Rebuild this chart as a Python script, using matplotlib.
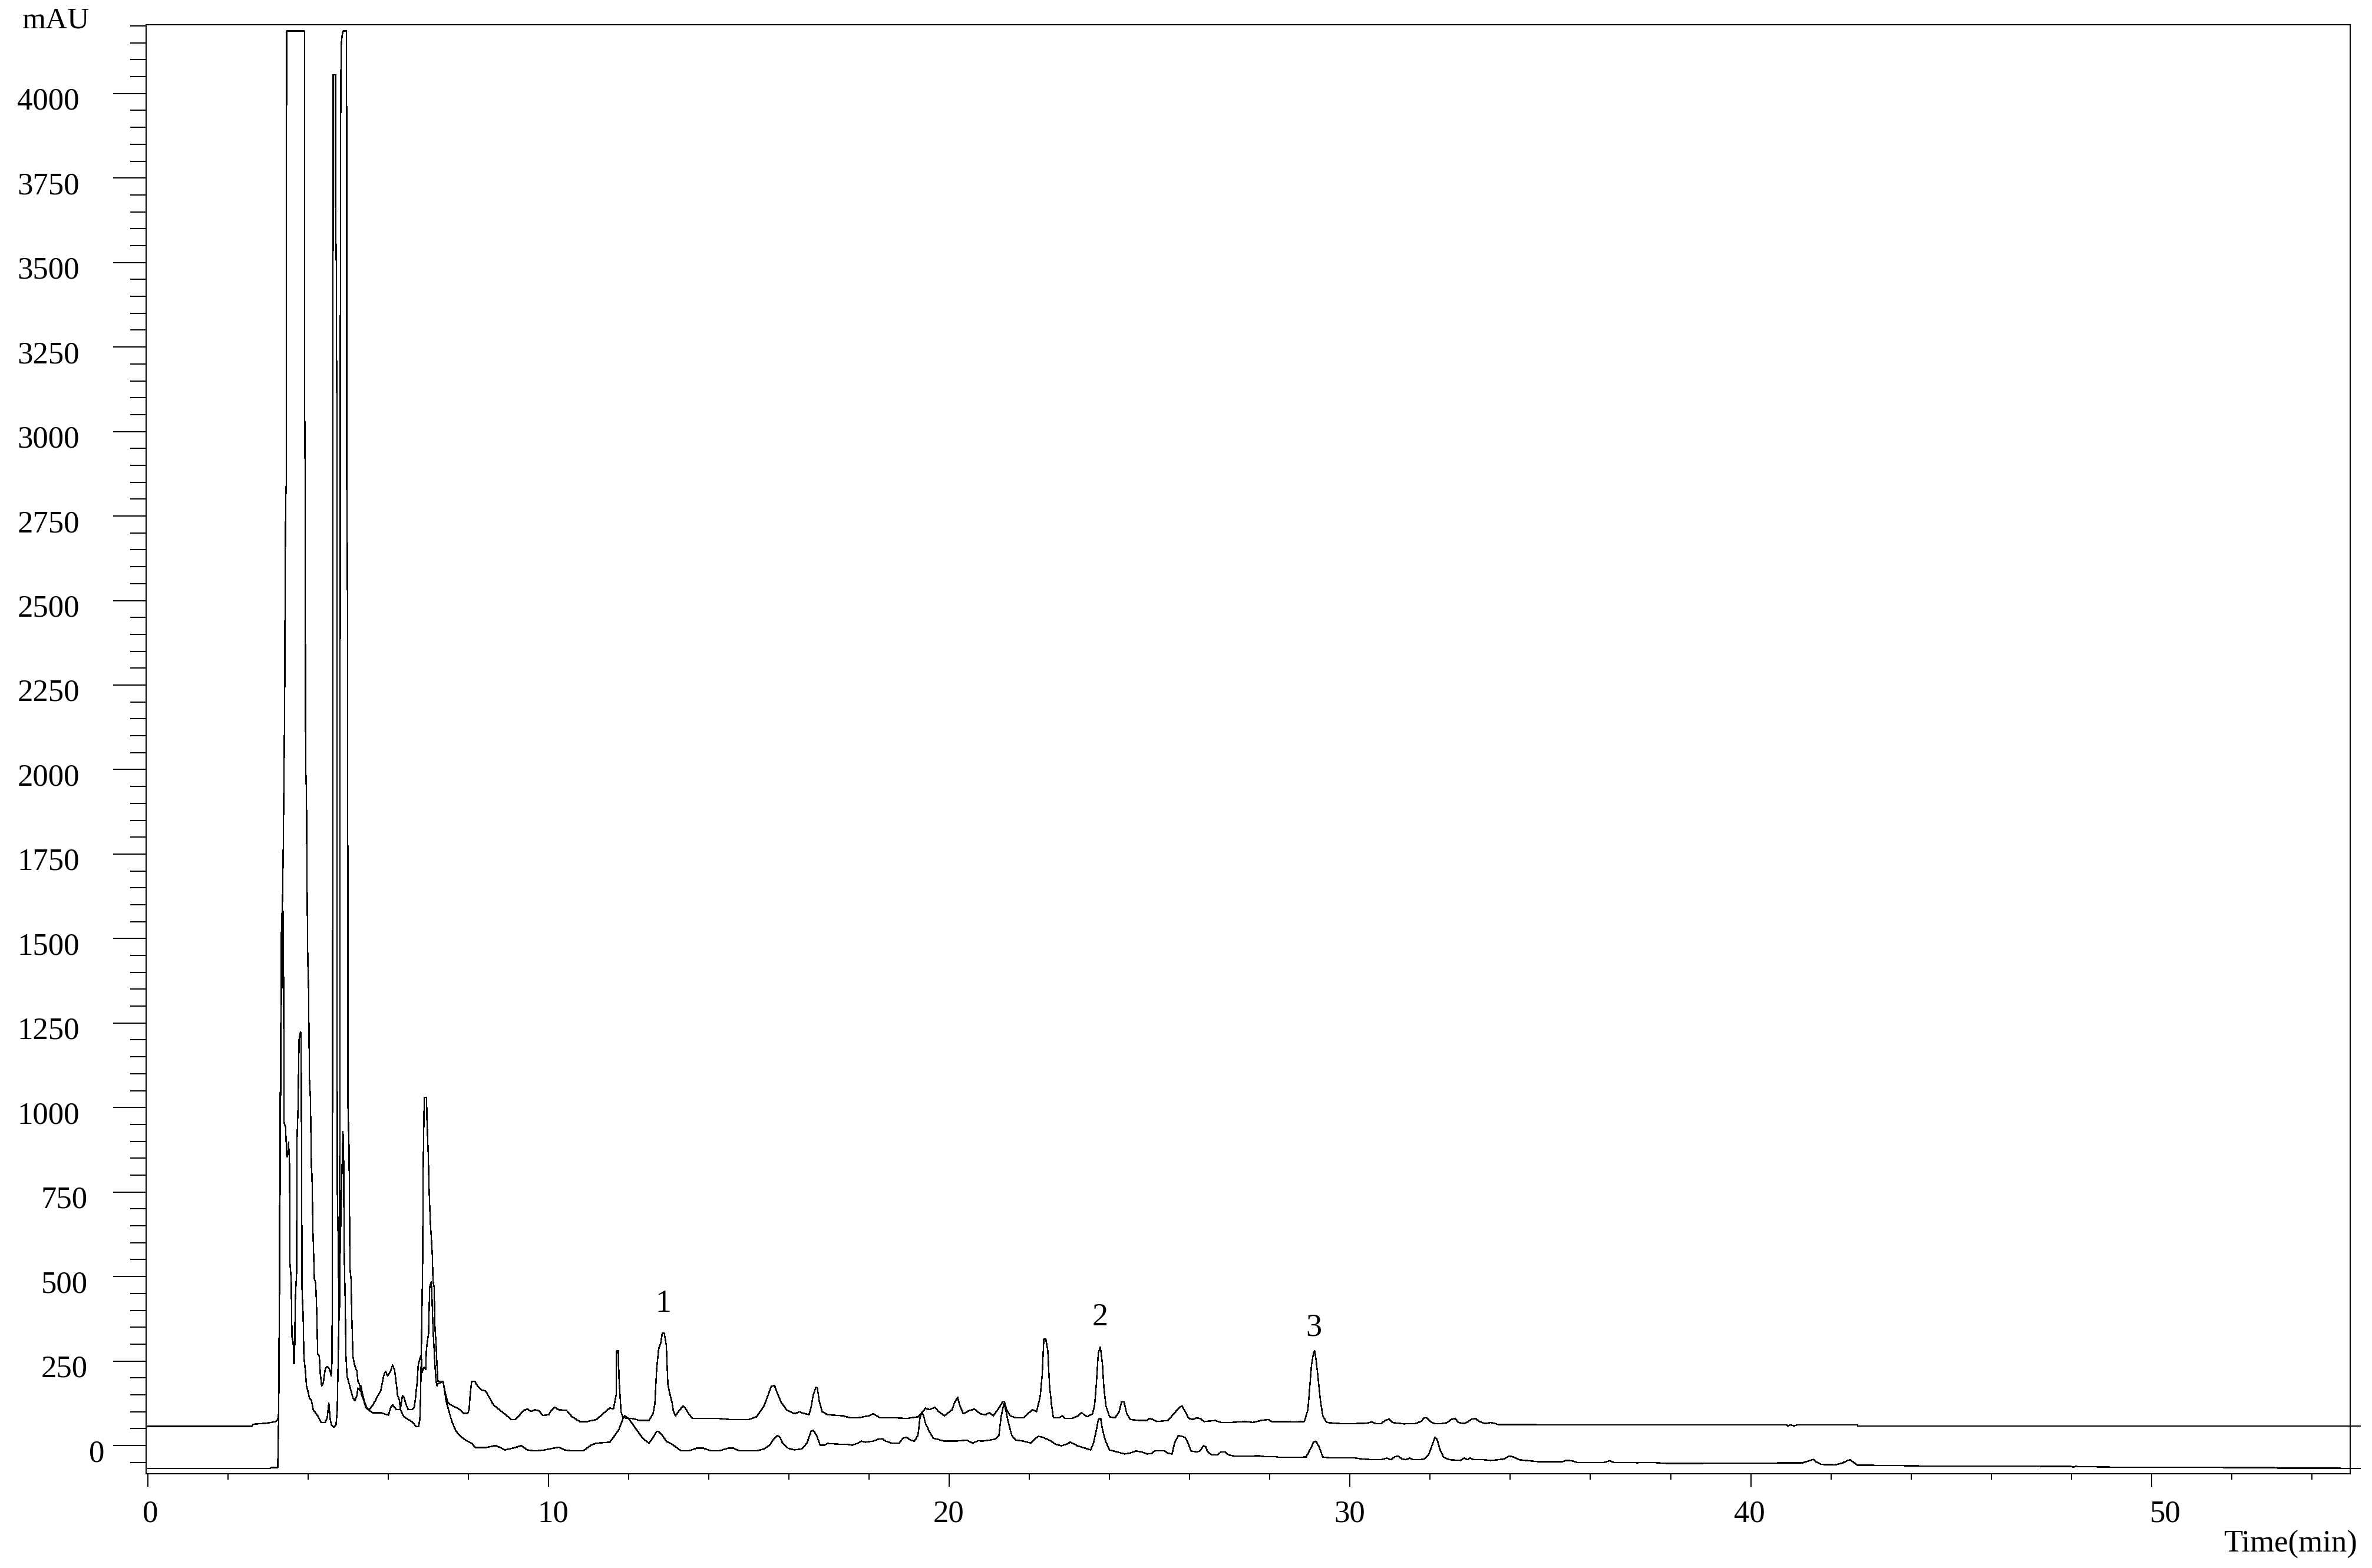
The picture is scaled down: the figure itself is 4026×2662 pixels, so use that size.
import matplotlib
matplotlib.use("Agg")
import matplotlib.pyplot as plt
from matplotlib.ticker import MultipleLocator, NullFormatter
from matplotlib.transforms import blended_transform_factory, ScaledTranslation

plt.rcParams['font.family'] = ['Liberation Serif', 'DejaVu Serif']

# upper trace (baseline ~57 mAU)
t_a = [0.0, 2.60, 2.63, 2.95, 3.17, 3.24, 3.27, 3.284, 3.304, 3.319, 3.334, 3.368, 3.383, 3.418,
       3.43, 3.445, 3.458, 3.465, 3.911, 3.913, 3.92, 3.93, 3.936, 3.946, 3.961, 3.976, 3.995,
       4.015, 4.035, 4.06, 4.084, 4.099, 4.124, 4.158, 4.193, 4.222, 4.242, 4.282, 4.307, 4.341,
       4.381, 4.43, 4.48, 4.529, 4.553, 4.578, 4.60, 4.615, 4.622, 4.627, 4.686, 4.69, 4.706,
       4.711, 4.72, 4.725, 4.73, 4.75, 4.776, 4.79, 4.80, 4.81, 4.825, 4.85, 4.874, 4.963, 4.965,
       4.973, 4.983, 4.99, 4.998, 5.023, 5.047, 5.072, 5.097, 5.121, 5.17, 5.22, 5.245, 5.294,
       5.343, 5.393, 5.442, 5.516, 5.615, 5.714, 5.813, 5.887, 5.936, 5.985, 6.06, 6.11, 6.16,
       6.21, 6.235, 6.28, 6.306, 6.356, 6.40, 6.45, 6.50, 6.60, 6.65, 6.676, 6.70, 6.726, 6.75,
       6.80, 6.825, 6.85, 6.90, 6.94, 6.95, 6.97, 7.007, 7.037, 7.076, 7.096, 7.12, 7.145, 7.17,
       7.195, 7.22, 7.244, 7.37, 7.39, 7.44, 7.49, 7.565, 7.69, 7.79, 7.886, 7.985, 8.02, 8.044,
       8.084, 8.158, 8.232, 8.33, 8.43, 8.53, 8.627, 8.775, 8.923, 9.07, 9.17, 9.27, 9.37, 9.47,
       9.565, 9.66, 9.76, 9.86, 10.01, 10.06, 10.16, 10.256, 10.45, 10.59, 10.78, 10.97, 11.20,
       11.39, 11.53, 11.62, 11.69, 11.70, 11.745, 11.76, 11.81, 11.86, 12.09, 12.28, 12.51, 12.61,
       12.655, 12.70, 12.75, 12.80, 12.84, 12.89, 12.94, 12.98, 13.03, 13.08, 13.12, 13.17, 13.26,
       13.36, 13.41, 13.50, 13.59, 14.25, 14.53, 15.0, 15.19, 15.38, 15.47, 15.56, 15.64, 15.70,
       15.80, 15.94, 16.13, 16.27, 16.32, 16.50, 16.55, 16.60, 16.67, 16.71, 16.76, 16.83, 16.97,
       17.35, 17.53, 17.72, 18.0, 18.10, 18.28, 18.66, 18.94, 19.22, 19.32, 19.41, 19.50, 19.64,
       19.74, 19.88, 20.07, 20.14, 20.21, 20.25, 20.35, 20.49, 20.63, 20.77, 20.91, 21.0, 21.10,
       21.24, 21.33, 21.38, 21.43, 21.52, 21.66, 21.85, 21.99, 22.08, 22.18, 22.27, 22.32, 22.36,
       22.41, 22.46, 22.50, 22.55, 22.60, 22.74, 22.83, 22.88, 23.07, 23.21, 23.30, 23.44, 23.58,
       23.63, 23.67, 23.72, 23.77, 23.82, 23.86, 23.91, 24.0, 24.14, 24.24, 24.30, 24.36, 24.43,
       24.52, 24.76, 24.94, 24.99, 25.08, 25.18, 25.46, 25.56, 25.65, 25.75, 25.81, 25.89, 25.98,
       26.08, 26.17, 26.26, 26.36, 26.64, 26.78, 27.0, 27.39, 27.58, 27.77, 27.96, 28.05, 28.33,
       28.62, 28.86, 28.95, 29.0, 29.04, 29.09, 29.12, 29.15, 29.20, 29.26, 29.32, 29.42, 29.75,
       30.13, 30.41, 30.55, 30.64, 30.78, 30.88, 30.97, 31.06, 31.35, 31.63, 31.77, 31.86, 31.92,
       32.0, 32.10, 32.29, 32.43, 32.52, 32.62, 32.71, 32.85, 32.95, 33.04, 33.13, 33.23, 33.37,
       33.51, 33.60, 33.70, 34.64, 34.65, 40.90, 40.92, 41.0, 41.08, 41.16, 42.66, 42.68, 55.2]
v_a = [57, 57, 63, 66, 70, 75, 95, 451, 1000, 1174, 1506, 1636, 1780, 2185,
       2600, 2800, 2850, 4185, 4185, 3206, 3018, 2830, 2185, 1997, 1925, 1665, 1434,
       1347, 1087, 1029, 827, 798, 632, 494, 480, 379, 271, 264, 213, 177,
       185, 227, 234, 227, 220, 206, 250, 1300, 2600, 4055, 4055, 3625, 3495,
       3249, 3100, 1500, 769, 625, 372, 420, 2000, 3800, 4138, 4170, 4185, 4185, 2881,
       2773, 2570, 2185, 1000, 885, 523, 494, 364, 263, 235, 220, 191, 177,
       148, 133, 112, 105, 119, 141, 162, 206, 220, 206, 220, 238, 224,
       176, 148, 134, 108, 148, 141, 120, 106, 106, 113, 134, 162, 190, 239,
       260, 266, 217, 232, 225, 274, 302, 330, 470, 484, 428, 344, 288, 232,
       190, 176, 183, 190, 176, 148, 127, 120, 113, 106, 95, 95, 106, 148,
       190, 190, 176, 164, 162, 141, 120, 106, 92, 77, 77, 89, 103, 108,
       101, 106, 103, 89, 91, 103, 113, 106, 104, 85, 71, 71, 77,
       97, 111, 108, 150, 280, 280, 199, 100, 82, 80, 74, 74, 94,
       123, 228, 286, 303, 332, 332, 297, 181, 152, 129, 100, 88, 103,
       117, 112, 94, 80, 80, 77, 77, 85, 117, 146, 175, 178, 158,
       129, 106, 94, 100, 97, 91, 111, 146, 172, 170, 129, 100, 91,
       88, 82, 82, 88, 94, 82, 82, 80, 85, 97, 111, 106, 113,
       100, 88, 106, 129, 143, 123, 94, 103, 108, 94, 91, 97, 88,
       111, 129, 129, 106, 88, 82, 82, 97, 106, 100, 146, 210, 315,
       315, 280, 181, 123, 82, 82, 88, 80, 80, 88, 97, 85, 94,
       123, 181, 274, 291, 245, 170, 117, 85, 82, 100, 129, 129, 94,
       77, 74, 74, 80, 77, 71, 74, 88, 100, 114, 117, 100, 80,
       77, 82, 80, 71, 74, 68, 68, 71, 68, 74, 77, 71, 71,
       70, 71, 106, 181, 239, 274, 280, 257, 204, 135, 88, 68, 65,
       65, 66, 70, 65, 65, 74, 78, 68, 64, 65, 71, 82, 82,
       71, 65, 65, 68, 77, 80, 68, 65, 71, 78, 80, 71, 65,
       68, 66, 62, 62, 61, 61, 58, 61, 58, 61, 61, 57.5, 57.5]

# lower trace (baseline ~-68 mAU)
t_b = [0.0, 3.05, 3.10, 3.245, 3.27, 3.30, 3.33, 3.353, 3.37, 3.38, 3.395, 3.40, 3.44, 3.47,
       3.49, 3.516, 3.54, 3.551, 3.58, 3.60, 3.63, 3.64, 3.665, 3.68, 3.714, 3.728, 3.748, 3.778,
       3.813, 3.827, 3.837, 3.852, 3.877, 3.897, 3.936, 3.961, 4.01, 4.035, 4.084, 4.133, 4.23,
       4.33, 4.43, 4.48, 4.52, 4.55, 4.58, 4.65, 4.70, 4.73, 4.76, 4.80, 4.85, 4.874, 4.89, 4.90,
       4.924, 4.948, 4.973, 5.023, 5.072, 5.121, 5.17, 5.22, 5.245, 5.294, 5.319, 5.368, 5.417,
       5.467, 5.516, 5.615, 5.813, 6.01, 6.06, 6.11, 6.16, 6.21, 6.31, 6.36, 6.40, 6.50, 6.60,
       6.65, 6.70, 6.76, 6.79, 6.81, 6.825, 6.84, 6.86, 6.874, 6.90, 6.96, 6.965, 7.0, 7.02, 7.05,
       7.10, 7.12, 7.145, 7.17, 7.195, 7.22, 7.244, 7.37, 7.39, 7.417, 7.44, 7.49, 7.54, 7.59,
       7.64, 7.69, 7.79, 7.94, 8.08, 8.18, 8.43, 8.68, 8.92, 9.17, 9.32, 9.47, 9.66, 9.91, 10.03,
       10.26, 10.40, 10.59, 10.87, 11.06, 11.20, 11.53, 11.62, 11.76, 11.86, 11.90, 12.0, 12.19,
       12.37, 12.51, 12.61, 12.70, 12.75, 12.84, 12.94, 13.12, 13.31, 13.50, 13.69, 13.87, 14.06,
       14.25, 14.48, 14.62, 14.77, 15.19, 15.38, 15.52, 15.62, 15.71, 15.78, 15.84, 15.98, 16.13,
       16.32, 16.45, 16.55, 16.61, 16.69, 16.78, 16.88, 16.97, 17.25, 17.44, 17.58, 17.72, 17.81,
       17.91, 18.10, 18.24, 18.33, 18.42, 18.56, 18.75, 18.85, 18.94, 19.03, 19.13, 19.22, 19.27,
       19.32, 19.36, 19.41, 19.50, 19.60, 19.69, 19.88, 20.16, 20.44, 20.58, 20.72, 20.82, 21.0,
       21.15, 21.24, 21.29, 21.36, 21.40, 21.47, 21.56, 21.66, 21.85, 22.04, 22.13, 22.23, 22.32,
       22.50, 22.65, 22.80, 22.93, 23.02, 23.07, 23.20, 23.39, 23.53, 23.60, 23.67, 23.72, 23.78,
       23.82, 23.86, 23.91, 24.0, 24.19, 24.38, 24.52, 24.66, 24.80, 24.94, 25.04, 25.13, 25.37,
       25.46, 25.56, 25.62, 25.72, 25.80, 25.89, 25.96, 26.03, 26.17, 26.26, 26.34, 26.40, 26.45,
       26.55, 26.69, 26.78, 26.88, 26.97, 27.11, 27.58, 27.72, 27.86, 28.14, 28.24, 28.62, 28.90,
       28.99, 29.09, 29.15, 29.23, 29.32, 29.56, 30.13, 30.31, 30.59, 30.78, 30.92, 31.02, 31.11,
       31.20, 31.30, 31.39, 31.49, 31.58, 31.72, 31.86, 31.96, 32.05, 32.12, 32.17, 32.24, 32.33,
       32.48, 32.76, 32.85, 32.93, 33.0, 33.09, 33.33, 33.51, 33.70, 33.84, 33.98, 34.08, 34.22,
       34.45, 34.73, 35.30, 35.39, 35.53, 35.67, 36.34, 36.48, 36.58, 37.18, 37.46, 37.65, 37.93,
       38.77, 38.88, 40.27, 41.30, 41.48, 41.56, 41.63, 41.76, 42.11, 42.28, 42.40, 42.48, 42.57,
       42.66, 44.07, 44.42, 46.72, 47.99, 48.05, 48.11, 49.03, 51.05, 53.13, 53.15, 55.2]
v_b = [-68, -68, -65, -65, 100, 700, 1300, 1376, 1560, 1580, 1300, 957, 942, 855,
       855, 898, 826, 538, 494, 321, 306, 242, 242, 422, 509, 913, 985, 1202,
       1224, 1216, 957, 451, 393, 263, 220, 177, 155, 141, 133, 105, 90,
       68, 68, 83, 126, 82, 61, 54, 62, 105, 300, 560, 827, 928, 841, 596,
       451, 263, 206, 184, 162, 141, 133, 148, 170, 162, 177, 148, 126,
       112, 105, 97, 97, 90, 112, 120, 113, 106, 106, 92, 85, 77, 70,
       63, 56, 56, 77, 147, 260, 372, 540, 820, 1030, 1030, 974, 862, 764, 666,
       568, 484, 470, 344, 302, 232, 190, 190, 176, 155, 134, 113, 92, 71,
       57, 43, 29, 15, 7, -6, -6, 0, -13, -6, 0, -13, -16, -13, -10,
       -5, -13, -16, -16, 1, 7, 10, 24, 48, 80, 88, 80, 48,
       19, 7, 24, 42, 42, 30, 13, 1, -16, -16, -8, -8, -16,
       -16, -8, -8, -16, -16, -10, 1, 19, 30, 24, 7, -8, -13,
       -10, 7, 42, 45, 30, 1, 1, 6, 4, 4, 1, 7, 13,
       10, 13, 19, 20, 13, 7, 7, 22, 24, 16, 13, 30, 82,
       100, 88, 65, 42, 22, 19, 13, 13, 16, 7, 14, 13, 16,
       19, 30, 82, 123, 111, 71, 30, 16, 13, 7, 19, 27, 25,
       16, 4, -1, 4, 10, 7, -1, -8, -13, 7, 45, 77, 80,
       50, 30, 10, -13, -19, -25, -22, -16, -19, -25, -24, -16, -16,
       -23, -25, 7, 30, 27, 24, 7, -16, -19, -16, -1, -4, -19,
       -28, -28, -19, -19, -28, -31, -31, -30, -33, -33, -35, -35, -34,
       -16, 10, 13, -4, -34, -37, -37, -40, -42, -42, -37, -42, -34,
       -31, -40, -42, -37, -42, -42, -40, -28, 1, 24, 19, -10, -34,
       -42, -44, -37, -42, -37, -42, -42, -44, -42, -40, -31, -34, -42,
       -45, -48, -48, -44, -45, -50, -50, -45, -50, -51, -50, -51, -53,
       -53, -52, -52, -51, -44, -41, -48, -56, -57, -52, -45, -42, -50,
       -58, -60, -61, -61, -62, -64, -62, -64, -64.5, -65.6, -67, -67.4]

peak_names = ['1', '2', '3']
peak_t = [12.86, 23.77, 29.09]
peak_label_y = [395, 355, 326]

y_ticks = list(range(0, 4001, 250))
x_ticks = list(range(0, 51, 10))
x_label_shift = [4, 8, -1, -1, -2, 23]   # px, as the instrument software placed them

W, H = 4026, 2662
fig = plt.figure(figsize=(W / 100, H / 100), dpi=100)
ax = fig.add_axes([247.7 / W, 1 - 2501.7 / H, (3988.5 - 247.7) / W, (2501.7 - 42.3) / H])

ax.plot(t_a, v_a, color='black', lw=1.0, antialiased=False, clip_on=False)
ax.plot(t_b, v_b, color='black', lw=1.0, antialiased=False, clip_on=False)

for name, t, y in zip(peak_names, peak_t, peak_label_y):
    ax.text(t, y, name, ha='center', va='baseline', fontsize=39)

ax.set_xlim(-0.044, 54.95)
ax.set_ylim(-83, 4203)

ax.set_xticks(x_ticks)
ax.set_yticks(y_ticks)
ax.xaxis.set_minor_locator(MultipleLocator(2))
ax.yaxis.set_minor_locator(MultipleLocator(50))
ax.xaxis.set_major_formatter(NullFormatter())
ax.yaxis.set_major_formatter(NullFormatter())

ax.tick_params(axis='y', which='major', direction='out', length=40, width=1.4)
ax.tick_params(axis='y', which='minor', direction='out', length=19.5, width=1.4)
ax.tick_params(axis='x', which='major', direction='out', length=15.6, width=1.4)
ax.tick_params(axis='x', which='minor', direction='out', length=7.2, width=1.4)

for s in ax.spines.values():
    s.set_linewidth(1.4)

# y labels: right edge moves left with the number of digits, as in the original
ytr = blended_transform_factory(fig.transFigure, ax.transData) + \
    ScaledTranslation(0, -27 / 100, fig.dpi_scale_trans)
for v in y_ticks:
    s = str(v)
    ax.text((191.5 - 14.2 * len(s)) / W, v, s, transform=ytr, ha='right',
            va='baseline', fontsize=38, clip_on=False)

for t, dx in zip(x_ticks, x_label_shift):
    xtr = blended_transform_factory(ax.transData, fig.transFigure) + \
        ScaledTranslation(dx / 100, 0, fig.dpi_scale_trans)
    ax.text(t, 1 - 2583 / H, str(t), transform=xtr, ha='center', va='baseline',
            fontsize=38, clip_on=False)

fig.text(95 / W, 1 - 48 / H, 'mAU', ha='center', va='baseline', fontsize=37)
fig.text(0.9938, 1 - 2635 / H, 'Time(min)', ha='right', va='baseline', fontsize=38)

fig.savefig('out.png', dpi=100)
